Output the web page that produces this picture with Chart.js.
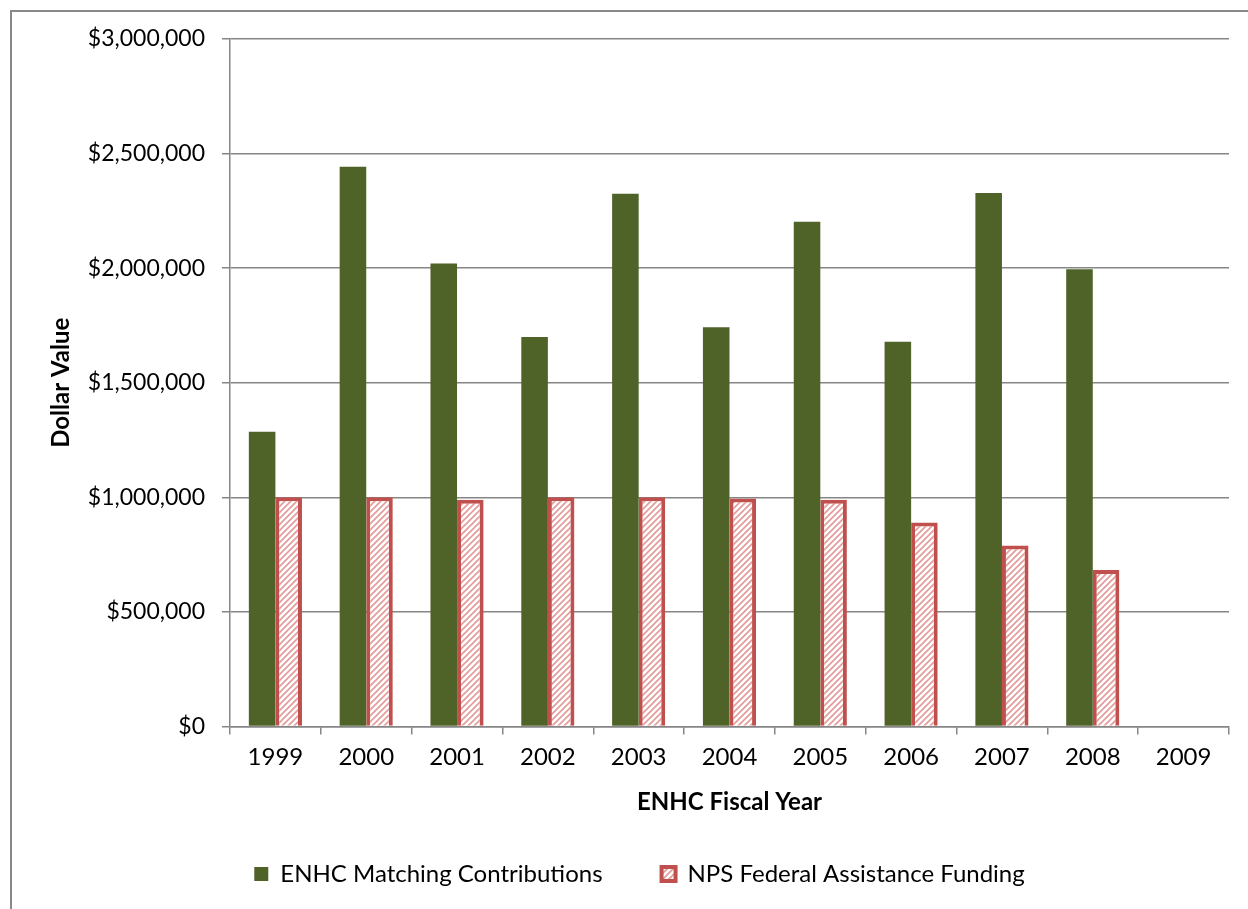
<!DOCTYPE html>
<html>
<head>
<meta charset="utf-8">
<script src="https://cdn.jsdelivr.net/npm/chart.js@4.4.1/dist/chart.umd.min.js"></script>
<style>
  html, body { margin: 0; padding: 0; background: #fff; overflow: hidden; }
  #frame { position: absolute; left: 10px; top: 10px; width: 1400px; height: 1100px; border: 2px solid #898989; }
  #wrap { position: absolute; left: 0; top: 0; width: 1248px; height: 909px; }
</style>
</head>
<body>
<div id="frame"></div>
<div id="wrap"><canvas id="fundingChart" width="1248" height="909"></canvas></div>
<script>
// Chart data
const years = ['1999', '2000', '2001', '2002', '2003', '2004', '2005', '2006', '2007', '2008', '2009'];
const enhcMatching = [1286000, 2443000, 2020000, 1700000, 2325000, 1742000, 2203000, 1679000, 2328000, 1995000, null];
const npsFunding = [1000000, 1000000, 990000, 1000000, 1000000, 995000, 990000, 890000, 790000, 683000, null];
const yTicks = [0, 500000, 1000000, 1500000, 2000000, 2500000, 3000000];

const GREEN = '#4F6228';
const RED = '#C0504D';
const GRID = '#868686';

// diagonal hatch for the NPS bars
function makeHatch() {
  const c = document.createElement('canvas');
  c.width = 6; c.height = 6;
  const g = c.getContext('2d');
  g.fillStyle = '#fff';
  g.fillRect(0, 0, 6, 6);
  g.strokeStyle = '#E39A98';
  g.lineWidth = 1.6;
  g.beginPath();
  g.moveTo(0, 6); g.lineTo(6, 0);
  g.moveTo(-3, 3); g.lineTo(3, -3);
  g.moveTo(3, 9); g.lineTo(9, 3);
  g.stroke();
  return g.createPattern(c, 'repeat');
}
const hatch = makeHatch();

// fixed legend height, and nudge it right like the original
const legendFit = {
  id: 'legendFit',
  beforeInit(chart) {
    const origFit = chart.legend.fit;
    chart.legend.fit = function () {
      origFit.call(this);
      this.height = 106;
    };
  },
  afterLayout(chart) {
    chart.legend.left += 20;
    chart.legend.right += 20;
  }
};

const ctx = document.getElementById('fundingChart').getContext('2d');
const fundingChart = new Chart(ctx, {
  type: 'bar',
  data: {
    labels: years,
    datasets: [{
      label: 'ENHC Matching Contributions',
      data: enhcMatching,
      backgroundColor: GREEN,
      borderWidth: 0
    }, {
      label: 'NPS Federal Assistance Funding',
      data: npsFunding,
      backgroundColor: hatch,
      borderColor: RED,
      borderWidth: 4
    }]
  },
  options: {
    responsive: false,
    animation: false,
    layout: { padding: { left: 10, right: 19, top: 39, bottom: 0 } },
    datasets: { bar: { categoryPercentage: 0.585, barPercentage: 1 } },
    plugins: {
      tooltip: { enabled: false },
      legend: {
        position: 'bottom',
        labels: {
          color: '#000',
          font: { family: 'Lato', size: 24 },
          boxWidth: 14,
          boxHeight: 14,
          padding: 59
        }
      }
    },
    scales: {
      x: {
        offset: true,
        afterFit(scale) { scale.height = 76.5; },
        grid: { display: true, offset: true, drawOnChartArea: false, drawTicks: true, tickLength: 8, color: GRID, lineWidth: 1.5 },
        border: { color: GRID, width: 1.5 },
        ticks: { color: '#000', font: { family: 'Lato', size: 24 }, padding: 8 },
        title: {
          display: true,
          text: 'ENHC Fiscal Year',
          color: '#000',
          font: { family: 'Lato', size: 24, weight: 'bold' },
          padding: { top: 0, bottom: -14 }
        }
      },
      y: {
        min: 0,
        max: 3000000,
        afterFit(scale) { scale.width = 220; },
        afterBuildTicks(scale) { scale.ticks = yTicks.map(v => ({ value: v })); },
        grid: { color: GRID, lineWidth: 1.5, tickLength: 8 },
        border: { color: GRID, width: 1.5 },
        ticks: {
          color: '#000',
          font: { family: 'Lato', size: 23 },
          padding: 17,
          callback: v => '$' + Number(v).toLocaleString('en-US')
        },
        title: {
          display: true,
          text: 'Dollar Value',
          color: '#000',
          font: { family: 'Lato', size: 24, weight: 'bold' },
          padding: { top: 37, bottom: 0 }
        }
      }
    }
  },
  plugins: [legendFit]
});
</script>
</body>
</html>
